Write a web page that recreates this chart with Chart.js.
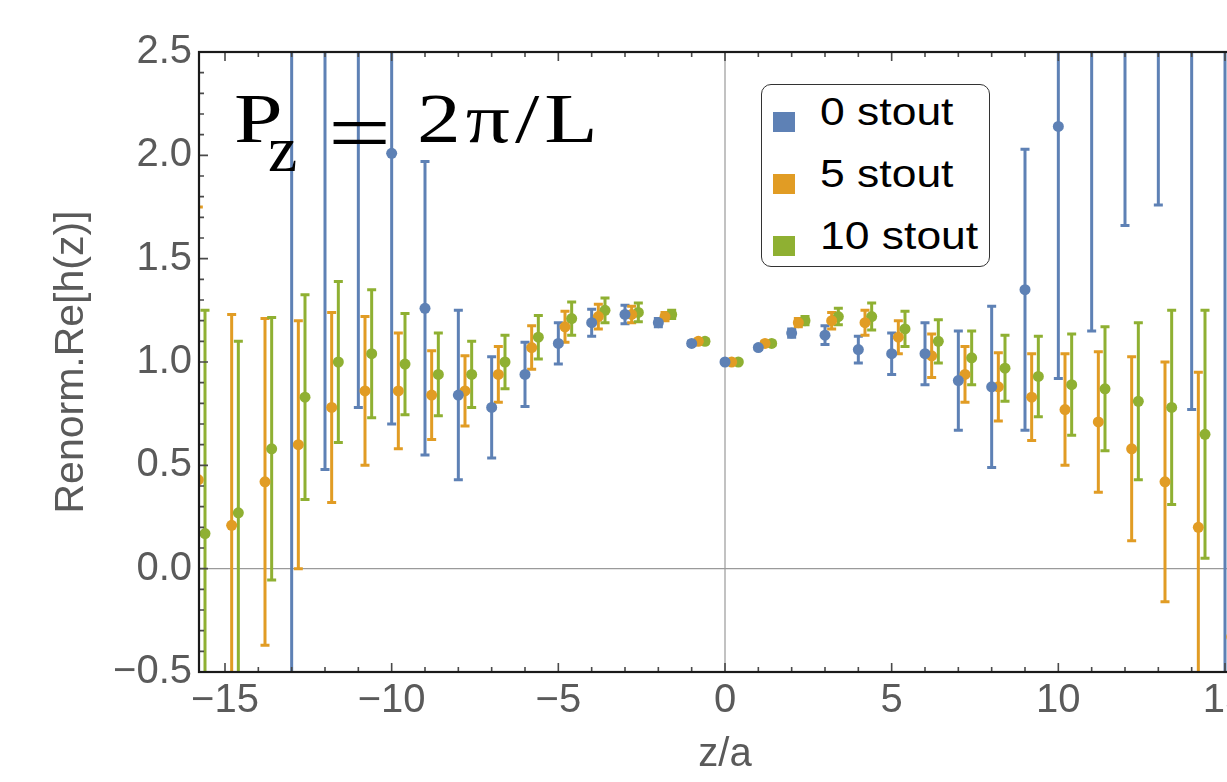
<!DOCTYPE html>
<html>
<head>
<meta charset="utf-8">
<script src="https://cdn.jsdelivr.net/npm/chart.js@4.4.0/dist/chart.umd.min.js"></script>
<style>
html,body{margin:0;padding:0;background:#fff;overflow:hidden;width:1227px;height:782px;}
#wrap{position:relative;width:1280px;height:782px;}
#chart{position:absolute;left:0;top:0;}
.pz{position:absolute;font-family:"Liberation Serif",serif;color:#000;line-height:1;white-space:nowrap;transform-origin:left top;}
#legend{position:absolute;left:761px;top:84px;width:227px;height:181px;border:1.5px solid #333;border-radius:10px;background:#fff;font-family:"Liberation Sans",Arial,sans-serif;}
.sw{position:absolute;left:11px;width:22px;height:20px;}
.lbl{position:absolute;left:58px;font-size:38px;color:#000;white-space:nowrap;line-height:1;transform:scaleX(1.17);transform-origin:left top;}
</style>
</head>
<body>
<div id="wrap">
  <canvas id="chart" width="1280" height="782"></canvas>
  <div class="pz" style="left:234px;top:84px;font-size:70px;transform:scaleX(1.25);">P</div>
  <div class="pz" style="left:268px;top:116px;font-size:66px;">z</div>
  <div class="pz" style="left:328px;top:90px;font-size:86px;transform:scaleX(1.3);">=</div>
  <div class="pz" style="left:417px;top:84px;font-size:70px;letter-spacing:4px;transform:scaleX(1.25);">2π/L</div>
  <div id="legend"></div>
</div>
<script>
// ===== Data =====
const zValues = [-16,-15,-14,-13,-12,-11,-10,-9,-8,-7,-6,-5,-4,-3,-2,-1,0,1,2,3,4,5,6,7,8,9,10,11,12,13,14,15];

const blueVal = [null,null,null,3.6,3.2,3.0,2.01,1.26,0.84,0.78,0.94,1.09,1.19,1.23,1.19,1.09,1.00,1.07,1.14,1.13,1.06,1.04,1.04,0.91,0.88,1.35,2.14,3.5,4.0,4.2,3.0,3.6];
const blueErr = [null,null,null,4.2,2.72,2.22,1.31,0.71,0.41,0.245,0.155,0.10,0.065,0.045,0.02,0.01,0.005,0.01,0.02,0.045,0.065,0.10,0.15,0.24,0.39,0.68,1.22,2.35,2.34,2.44,2.23,4.2];

const orangeVal = [0.43,0.21,0.42,0.60,0.78,0.86,0.86,0.84,0.86,0.94,1.07,1.17,1.22,1.23,1.22,1.10,1.00,1.09,1.19,1.20,1.19,1.12,1.03,0.94,0.88,0.83,0.77,0.71,0.58,0.42,0.20,-0.33];
const orangeErr = [1.32,1.02,0.79,0.60,0.46,0.36,0.28,0.215,0.17,0.135,0.105,0.075,0.06,0.04,0.02,0.01,0.005,0.01,0.02,0.04,0.06,0.08,0.105,0.135,0.165,0.21,0.27,0.34,0.445,0.58,0.75,0.9];

const greenVal = [0.17,0.27,0.58,0.83,1.00,1.04,0.99,0.94,0.94,1.00,1.12,1.21,1.25,1.24,1.23,1.10,1.00,1.09,1.20,1.22,1.22,1.16,1.10,1.02,0.97,0.93,0.89,0.87,0.81,0.78,0.65,null];
const greenErr = [1.08,0.83,0.635,0.495,0.39,0.31,0.245,0.20,0.16,0.13,0.105,0.08,0.06,0.045,0.02,0.01,0.005,0.01,0.02,0.04,0.065,0.085,0.105,0.13,0.16,0.195,0.245,0.30,0.38,0.47,0.60,null];

const seriesNames = ["0 stout","5 stout","10 stout"];
const zShift = [0, 0.2, 0.4]; // each series is plotted slightly shifted in z

const xTickVals = [-15,-10,-5,0,5,10,15];
const xTickLabels = ["\u221215","\u221210","\u22125","0","5","10","15"];
const yTickVals = [-0.5,0,0.5,1,1.5,2,2.5];
const yTickLabels = ["\u22120.5","0.0","0.5","1.0","1.5","2.0","2.5"];

const COLORS = ["#5E81B5","#E19C24","#8FB032"];
const GRAY = "#5a5a5a";
const FONT = "'Liberation Sans', Arial, sans-serif";

// ===== Helpers =====
function makePoints(vals, errs, shift){
    const pts = [];
    zValues.forEach((z,i)=>{
        if(vals[i]===null) return;
        pts.push({x: z+shift, y: vals[i], err: errs[i]});
    });
    return pts;
}

const allVals = [blueVal, orangeVal, greenVal];
const allErrs = [blueErr, orangeErr, greenErr];
const datasets = seriesNames.map((name,i)=>({
    label: name,
    data: makePoints(allVals[i], allErrs[i], zShift[i]),
    backgroundColor: COLORS[i],
    borderColor: COLORS[i],
    pointRadius: 5.5,
    pointBorderWidth: 0,
    pointHoverRadius: 5.5,
    showLine: false,
    clip: 0
}));

// ===== Plugins =====
const errorBars = {
    id: "errorBars",
    beforeDatasetsDraw(chart){
        const {ctx, chartArea:a, scales:{x,y}} = chart;
        ctx.save();
        ctx.beginPath(); ctx.rect(a.left, a.top, a.right-a.left, a.bottom-a.top); ctx.clip();
        // axes through the origin
        const x0 = x.getPixelForValue(0), y0 = y.getPixelForValue(0);
        ctx.strokeStyle = "#9a9a9a"; ctx.lineWidth = 1.2;
        ctx.beginPath();
        ctx.moveTo(x0, a.top); ctx.lineTo(x0, a.bottom);
        ctx.moveTo(a.left, y0); ctx.lineTo(a.right, y0);
        ctx.stroke();
        chart.data.datasets.forEach(ds=>{
            ctx.strokeStyle = ds.borderColor; ctx.lineWidth = 3;
            ds.data.forEach(p=>{
                const px = x.getPixelForValue(p.x);
                const lo = y.getPixelForValue(p.y - p.err);
                const hi = y.getPixelForValue(p.y + p.err);
                ctx.beginPath();
                ctx.moveTo(px, lo); ctx.lineTo(px, hi);
                ctx.moveTo(px-4.5, lo); ctx.lineTo(px+4.5, lo);
                ctx.moveTo(px-4.5, hi); ctx.lineTo(px+4.5, hi);
                ctx.stroke();
            });
        });
        ctx.restore();
    },
    afterDraw(chart){
        const {ctx, chartArea:a, scales:{x,y}} = chart;
        ctx.save();
        ctx.strokeStyle = "#4a4a4a"; ctx.lineWidth = 1.6;
        ctx.beginPath();
        for(let v=-15; v<=15; v++){
            const px = x.getPixelForValue(v);
            const len = v%5===0 ? 9 : 5;
            ctx.moveTo(px, a.bottom); ctx.lineTo(px, a.bottom-len);
            ctx.moveTo(px, a.top); ctx.lineTo(px, a.top+len);
        }
        for(let k=-5; k<=25; k++){
            const py = y.getPixelForValue(k/10);
            const len = k%5===0 ? 9 : 5;
            ctx.moveTo(a.left, py); ctx.lineTo(a.left+len, py);
            ctx.moveTo(a.right, py); ctx.lineTo(a.right-len, py);
        }
        ctx.stroke();
        ctx.strokeStyle = "#1a1a1a"; ctx.lineWidth = 2.2;
        ctx.strokeRect(a.left, a.top, a.right-a.left, a.bottom-a.top);
        ctx.restore();
    }
};

// ===== Chart =====
const chart = new Chart(document.getElementById("chart").getContext("2d"), {
    type: "scatter",
    data: {datasets},
    options: {
        responsive: false,
        animation: false,
        events: [],
        layout: {padding: {top: 52, right: 29, bottom: 0, left: 0}},
        plugins: {legend: {display: false}, tooltip: {enabled: false}},
        scales: {
            x: {
                type: "linear", min: -15.78, max: 15.78,
                afterFit(s){ s.height = 110; },
                afterBuildTicks(s){ s.ticks = xTickVals.map(v=>({value:v})); },
                grid: {display: false, drawTicks: false},
                border: {display: false},
                ticks: {
                    autoSkip: false, maxRotation: 0, padding: 5, color: GRAY,
                    font: {family: FONT, size: 40},
                    callback: (v,i)=>xTickLabels[i]
                },
                title: {display: true, text: "z/a", color: GRAY, font: {family: FONT, size: 40}, padding: {top: 0, bottom: 3}}
            },
            y: {
                type: "linear", min: -0.5, max: 2.5,
                afterFit(s){ s.width = 199; },
                afterBuildTicks(s){ s.ticks = yTickVals.map(v=>({value:v})); },
                grid: {display: false, drawTicks: false},
                border: {display: false},
                ticks: {
                    autoSkip: false, padding: 7, color: GRAY,
                    font: {family: FONT, size: 40},
                    callback: (v,i)=>yTickLabels[i]
                },
                title: {display: true, text: "Renorm.Re[h(z)]", color: GRAY, font: {family: FONT, size: 41}, padding: {top: 47, bottom: 0}}
            }
        }
    },
    plugins: [errorBars]
});

// ===== Legend =====
const legendBox = document.getElementById("legend");
chart.data.datasets.forEach((ds,i)=>{
    const sw = document.createElement("div");
    sw.className = "sw";
    sw.style.top = (27 + i*62) + "px";
    sw.style.background = ds.backgroundColor;
    const lb = document.createElement("div");
    lb.className = "lbl";
    lb.style.top = (8 + i*62) + "px";
    lb.textContent = ds.label;
    legendBox.appendChild(sw);
    legendBox.appendChild(lb);
});
</script>
</body>
</html>
